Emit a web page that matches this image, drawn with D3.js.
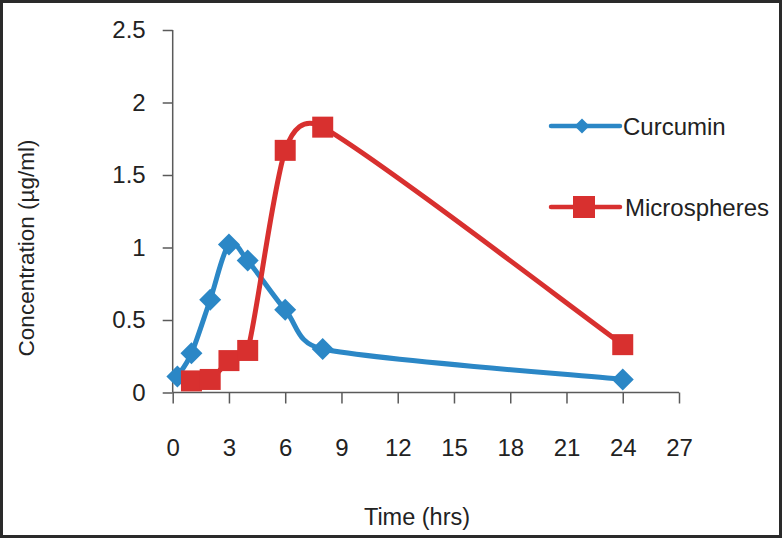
<!DOCTYPE html>
<html>
<head>
<meta charset="utf-8">
<script src="https://cdn.jsdelivr.net/npm/d3@7"></script>
<style>
  html, body { margin: 0; padding: 0; background: #fff; }
  svg { display: block; }
  text { font-family: "Liberation Sans", Arial, sans-serif; fill: #222; }
</style>
</head>
<body>
<svg id="chart" width="782" height="538"></svg>
<script>
const curcuminTime = [0.25, 1, 2, 3, 4, 6, 8, 24];
const curcuminConc = [0.11, 0.27, 0.64, 1.02, 0.91, 0.57, 0.30, 0.09];
const microTime = [1, 2, 3, 4, 6, 8, 24];
const microConc = [0.08, 0.09, 0.22, 0.29, 1.67, 1.83, 0.33];
const xTicks = [0, 3, 6, 9, 12, 15, 18, 21, 24, 27];
const yTicks = [0, 0.5, 1, 1.5, 2, 2.5];
const seriesNames = ["Curcumin", "Microspheres"];
const seriesColors = ["#2b87c6", "#d8302f"];

const svg = d3.select("#chart");
const W = 782, H = 538;

svg.append("rect").attr("x", 1.5).attr("y", 1.5).attr("width", W - 3).attr("height", H - 3)
  .attr("fill", "#fff").attr("stroke", "#2a2a2a").attr("stroke-width", 3);

const x = d3.scaleLinear().domain([0, 27]).range([172.7, 679]);
const y = d3.scaleLinear().domain([0, 2.5]).range([392.5, 30]);

const axisColor = "#5a5a5a";
const fontFam = "Liberation Sans, Arial, sans-serif";

// Y axis
const yAxis = svg.append("g").attr("transform", `translate(${x(0)},0)`)
  .call(d3.axisLeft(y).tickValues(yTicks).tickSize(10).tickPadding(17)
    .tickFormat(d => d3.format("")(d)));
yAxis.select(".domain").attr("stroke", axisColor).attr("stroke-width", 1.5).attr("d", `M0,${y(2.5)}V${y(0)}`);
yAxis.selectAll(".tick line").attr("stroke", axisColor).attr("stroke-width", 1.5);
yAxis.selectAll(".tick text").attr("font-size", 24).attr("fill", "#222").attr("font-family", fontFam);

// X axis
const xAxis = svg.append("g").attr("transform", `translate(0,${y(0)})`)
  .call(d3.axisBottom(x).tickValues(xTicks).tickSize(11).tickPadding(35));
xAxis.select(".domain").attr("stroke", axisColor).attr("stroke-width", 1.5).attr("d", `M${x(0)},0H${x(27)}`);
xAxis.selectAll(".tick line").attr("stroke", axisColor).attr("stroke-width", 1.5);
xAxis.selectAll(".tick text").attr("font-size", 24).attr("fill", "#222").attr("font-family", fontFam);

// Axis titles
svg.append("text").attr("x", 417).attr("y", 525).attr("text-anchor", "middle")
  .attr("font-size", 23.5).text("Time (hrs)");
svg.append("text").attr("transform", "translate(34,248) rotate(-90)").attr("text-anchor", "middle")
  .attr("font-size", 22.5).text("Concentration (µg/ml)");

// Excel-like smoothed line: Catmull-Rom bezier with control offsets limited by segment length
function smoothPath(data) {
  const p = data.map(d => [x(d[0]), y(d[1])]);
  const n = p.length;
  const path = d3.path();
  path.moveTo(p[0][0], p[0][1]);
  const clamp = (v, len) => {
    const l = Math.hypot(v[0], v[1]);
    if (l > len && l > 0) return [v[0] * len / l, v[1] * len / l];
    return v;
  };
  for (let i = 0; i < n - 1; i++) {
    const p0 = p[Math.max(0, i - 1)], p1 = p[i], p2 = p[i + 1], p3 = p[Math.min(n - 1, i + 2)];
    const seg = Math.hypot(p2[0] - p1[0], p2[1] - p1[1]);
    const t1 = clamp([(p2[0] - p0[0]) / 6, (p2[1] - p0[1]) / 6], seg / 2);
    const t2 = clamp([(p3[0] - p1[0]) / 6, (p3[1] - p1[1]) / 6], seg / 2);
    path.bezierCurveTo(p1[0] + t1[0], p1[1] + t1[1], p2[0] - t2[0], p2[1] - t2[1], p2[0], p2[1]);
  }
  return path.toString();
}

const curData = curcuminTime.map((t, i) => [t, curcuminConc[i]]);
const micData = microTime.map((t, i) => [t, microConc[i]]);

const diamond = r => `M0,${-r}L${r},0L0,${r}L${-r},0Z`;

// Curcumin series
svg.append("path").attr("d", smoothPath(curData)).attr("fill", "none")
  .attr("stroke", seriesColors[0]).attr("stroke-width", 5).attr("stroke-linejoin", "round");
svg.selectAll(".dia").data(curData).enter().append("path")
  .attr("transform", d => `translate(${x(d[0])},${y(d[1])})`)
  .attr("d", diamond(11)).attr("fill", seriesColors[0]);

// Microspheres series
svg.append("path").attr("d", smoothPath(micData)).attr("fill", "none")
  .attr("stroke", seriesColors[1]).attr("stroke-width", 5).attr("stroke-linejoin", "round");
const sq = 21;
svg.selectAll(".sq").data(micData).enter().append("rect")
  .attr("x", d => x(d[0]) - sq / 2).attr("y", d => y(d[1]) - sq / 2)
  .attr("width", sq).attr("height", sq).attr("fill", seriesColors[1]);

// Legend
const legY = [126, 207];
const lg = svg.append("g");
lg.append("line").attr("x1", 551).attr("x2", 620).attr("y1", legY[0]).attr("y2", legY[0])
  .attr("stroke", seriesColors[0]).attr("stroke-width", 4.5).attr("stroke-linecap", "round");
lg.append("path").attr("transform", `translate(582,${legY[0]})`).attr("d", diamond(7.5)).attr("fill", seriesColors[0]);
lg.append("text").attr("x", 623).attr("y", legY[0] + 9).attr("font-size", 24).text(seriesNames[0]);

lg.append("line").attr("x1", 551).attr("x2", 620).attr("y1", legY[1]).attr("y2", legY[1])
  .attr("stroke", seriesColors[1]).attr("stroke-width", 4.5).attr("stroke-linecap", "round");
lg.append("rect").attr("x", 584 - 11).attr("y", legY[1] - 11).attr("width", 22).attr("height", 22).attr("fill", seriesColors[1]);
lg.append("text").attr("x", 625).attr("y", legY[1] + 9).attr("font-size", 24).text(seriesNames[1]);
</script>
</body>
</html>
